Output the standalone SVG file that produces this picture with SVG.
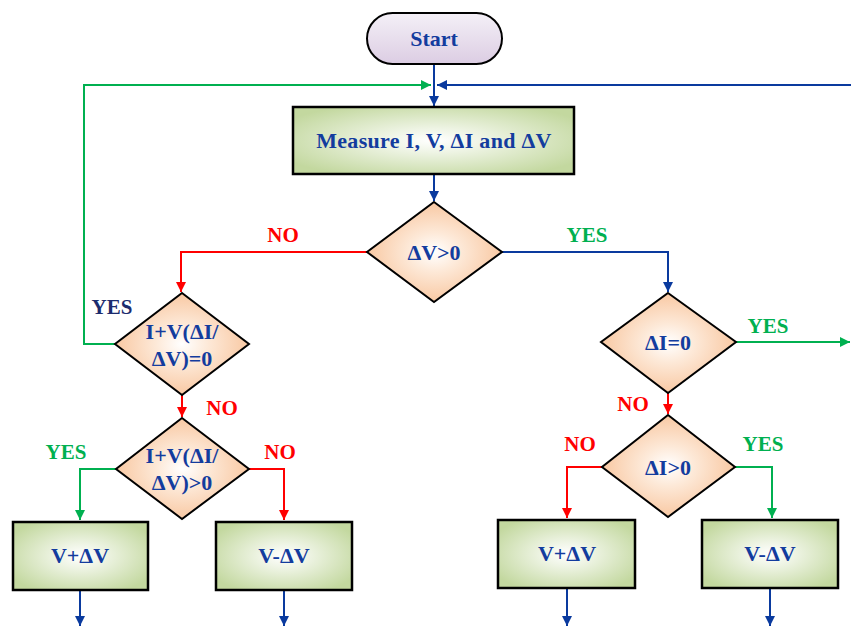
<svg xmlns="http://www.w3.org/2000/svg" width="851" height="627" viewBox="0 0 851 627">
<defs>
<radialGradient id="gDia" cx="50%" cy="50%" r="55%">
<stop offset="0" stop-color="#ffffff"/>
<stop offset="0.35" stop-color="#fde9d8"/>
<stop offset="1" stop-color="#f8c39a"/>
</radialGradient>
<radialGradient id="gBox" cx="50%" cy="50%" r="60%">
<stop offset="0" stop-color="#ffffff"/>
<stop offset="0.3" stop-color="#eef4e4"/>
<stop offset="1" stop-color="#c3d89f"/>
</radialGradient>
<linearGradient id="gStart" x1="0" y1="0" x2="0" y2="1">
<stop offset="0" stop-color="#f4f0f7"/>
<stop offset="1" stop-color="#dccde3"/>
</linearGradient>
<marker id="aB" viewBox="0 0 10 10" refX="10" refY="5" markerWidth="13" markerHeight="10" markerUnits="userSpaceOnUse" orient="auto"><path d="M0,0 L10,5 L0,10 Z" fill="#0a3a9e"/></marker>
<marker id="aG" viewBox="0 0 10 10" refX="10" refY="5" markerWidth="13" markerHeight="10" markerUnits="userSpaceOnUse" orient="auto"><path d="M0,0 L10,5 L0,10 Z" fill="#00b050"/></marker>
<marker id="aR" viewBox="0 0 10 10" refX="10" refY="5" markerWidth="13" markerHeight="10" markerUnits="userSpaceOnUse" orient="auto"><path d="M0,0 L10,5 L0,10 Z" fill="#ff0000"/></marker>
</defs>
<style>
.t{font-family:"Liberation Serif","Times New Roman",serif;font-weight:bold;font-size:22px;fill:#133c9e;text-anchor:middle;}
.lg{font-family:"Liberation Serif","Times New Roman",serif;font-weight:bold;font-size:21px;fill:#00b050;text-anchor:middle;}
.lr{font-family:"Liberation Serif","Times New Roman",serif;font-weight:bold;font-size:21px;fill:#ff0000;text-anchor:middle;}
.ln{font-family:"Liberation Serif","Times New Roman",serif;font-weight:bold;font-size:21px;fill:#1c2c6e;text-anchor:middle;}
.dia{fill:url(#gDia);stroke:#000;stroke-width:2;}
.box{fill:url(#gBox);stroke:#000;stroke-width:2.5;}
.cB{fill:none;stroke:#0a3a9e;stroke-width:2;marker-end:url(#aB);}
.cG{fill:none;stroke:#00b050;stroke-width:2;marker-end:url(#aG);}
.cR{fill:none;stroke:#ff0000;stroke-width:2;marker-end:url(#aR);}
</style>
<g id="connectors">
<path class="cB" d="M434,65 V106"/>
<path class="cG" d="M115,344 H84 V85 H431"/>
<path class="cB" d="M851,85 H437"/>
<path class="cB" d="M434,174 V201"/>
<path class="cB" d="M502,252 H668 V292"/>
<path class="cR" d="M367,252 H181 V292"/>
<path class="cR" d="M182,395 V417"/>
<path class="cG" d="M116,469 H80 V520"/>
<path class="cR" d="M249,469 H284 V520"/>
<path class="cB" d="M80,590 V626"/>
<path class="cB" d="M284,590 V626"/>
<path class="cG" d="M736,342 H850"/>
<path class="cR" d="M668,393 V414"/>
<path class="cR" d="M602,467 H567 V518"/>
<path class="cG" d="M735,467 H772 V518"/>
<path class="cB" d="M567,588 V626"/>
<path class="cB" d="M770,588 V626"/>
</g>
<g id="labels">
<text class="lr" x="283" y="242">NO</text>
<text class="lg" x="587" y="242">YES</text>
<text class="ln" x="112" y="314">YES</text>
<text class="lr" x="222" y="415">NO</text>
<text class="lg" x="66" y="459">YES</text>
<text class="lr" x="280" y="459">NO</text>
<text class="lg" x="768" y="333">YES</text>
<text class="lr" x="633" y="411">NO</text>
<text class="lr" x="580" y="451">NO</text>
<text class="lg" x="763" y="451">YES</text>
</g>
<g id="start">
<rect x="367" y="13" width="135" height="51" rx="25.5" fill="url(#gStart)" stroke="#000" stroke-width="2"/>
<text class="t" x="434" y="46">Start</text>
</g>
<g id="measure">
<rect class="box" x="293" y="107" width="281" height="67"/>
<text class="t" x="434" y="148" style="font-size:22px;letter-spacing:0.3px">Measure I, V, ΔI and ΔV</text>
</g>
<g id="dv">
<polygon class="dia" points="434,202 502,252 434,302 367,252"/>
<text class="t" x="434" y="260">ΔV&gt;0</text>
</g>
<g id="d1">
<polygon class="dia" points="182,293 249,344 182,395 115,344"/>
<text class="t" x="182" y="339">I+V(ΔI/</text>
<text class="t" x="182" y="366">ΔV)=0</text>
</g>
<g id="d2">
<polygon class="dia" points="182,418 249,469 182,519 116,469"/>
<text class="t" x="182" y="463">I+V(ΔI/</text>
<text class="t" x="182" y="490">ΔV)&gt;0</text>
</g>
<g id="di0">
<polygon class="dia" points="668,293 736,342 668,393 601,342"/>
<text class="t" x="668" y="350">ΔI=0</text>
</g>
<g id="dig">
<polygon class="dia" points="668,415 735,467 668,517 602,467"/>
<text class="t" x="668" y="475">ΔI&gt;0</text>
</g>
<g id="b1">
<rect class="box" x="13" y="522" width="135" height="68"/>
<text class="t" x="80" y="563">V+ΔV</text>
</g>
<g id="b2">
<rect class="box" x="216" y="522" width="136" height="68"/>
<text class="t" x="284" y="563">V-ΔV</text>
</g>
<g id="b3">
<rect class="box" x="498" y="520" width="137" height="68"/>
<text class="t" x="567" y="561">V+ΔV</text>
</g>
<g id="b4">
<rect class="box" x="702" y="520" width="136" height="68"/>
<text class="t" x="770" y="561">V-ΔV</text>
</g>
</svg>
